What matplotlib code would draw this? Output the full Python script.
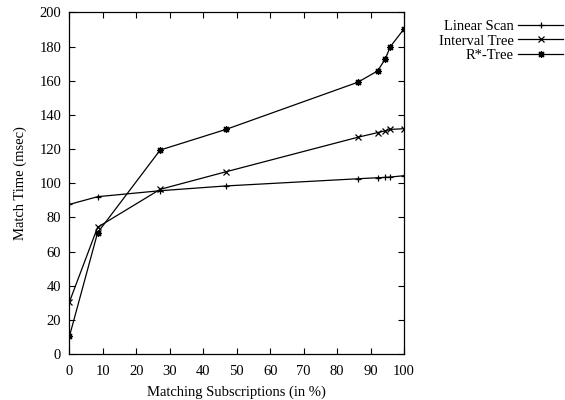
import matplotlib
matplotlib.use("Agg")
import matplotlib.pyplot as plt

plt.rcParams['font.family'] = ['Liberation Serif', 'DejaVu Serif']

# matching subscriptions (in %)
match_pct = [0, 8.4, 27.1, 46.8, 86.2, 92.1, 94.4, 95.9, 100]

# match times (msec)
linear_scan = [87.6, 92.1, 95.6, 98.4, 102.6, 103.2, 103.4, 103.6, 104.4]
interval_tree = [30.6, 74.2, 96.4, 106.7, 126.9, 129.6, 130.7, 131.5, 131.9]
rstar_tree = [10.5, 71.0, 119.4, 131.5, 159.1, 165.7, 172.7, 179.9, 190.3]

series_names = ["Linear Scan", "Interval Tree", "R*-Tree"]

fig = plt.figure(figsize=(5.65, 4.0), dpi=100)
ax = fig.add_axes([0.123, 0.115, 0.592, 0.854])

ax.plot(match_pct, linear_scan, color="black", lw=0.9, marker="+", ms=5, mew=0.9, label=series_names[0])
ax.plot(match_pct, interval_tree, color="black", lw=0.9, marker="x", ms=4, mew=0.9, label=series_names[1])
ax.plot(match_pct, rstar_tree, color="black", lw=0.9, marker=(8, 2, 0), ms=5, mew=0.9, label=series_names[2])

ax.set_xlim(0, 100)
ax.set_ylim(0, 200)
ax.set_xticks(range(0, 101, 10))
ax.set_yticks(range(0, 201, 20))
ax.tick_params(direction="in", top=True, right=True, length=4, width=0.8, labelsize=10.5, pad=6)
ax.tick_params(axis="x", pad=8)
for s in ax.spines.values():
    s.set_linewidth(0.9)

ax.set_xlabel("Matching Subscriptions (in %)", fontsize=10.5, labelpad=5)
ax.set_ylabel("Match Time (msec)", fontsize=10.5, labelpad=9)

fig.legend(loc="upper right", bbox_to_anchor=(0.997, 0.95), frameon=False, markerfirst=False,
           fontsize=10.5, handlelength=3.1, handletextpad=0.3, labelspacing=0.08,
           borderpad=0, borderaxespad=0)
# right-align legend texts like gnuplot
leg = fig.legends[0]
leg._legend_box.align = "right"

fig.savefig("out.png", dpi=100)
